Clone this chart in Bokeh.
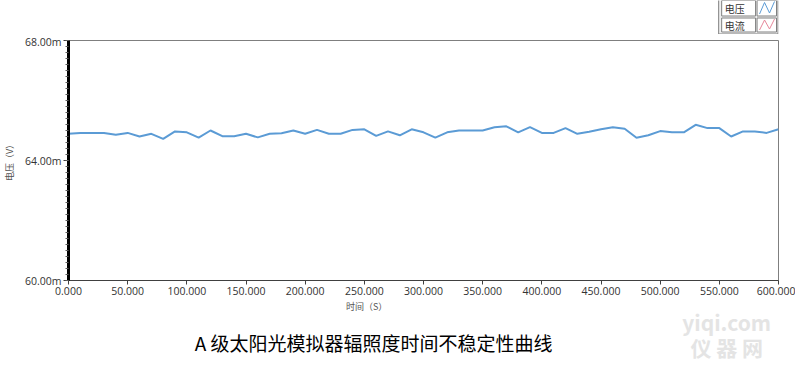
from bokeh.plotting import figure
from bokeh.layouts import column
from bokeh.models import Range1d, FixedTicker, PrintfTickFormatter
from bokeh.core.properties import value
from bokeh.embed import file_html
from bokeh.resources import INLINE

# ---- data ----
time_s = [0, 10, 20, 30, 40, 50, 60, 70, 80, 90,
          100, 110, 120, 130, 140, 150, 160, 170, 180, 190,
          200, 210, 220, 230, 240, 250, 260, 270, 280, 290,
          300, 310, 320, 330, 340, 350, 360, 370, 380, 390,
          400, 410, 420, 430, 440, 450, 460, 470, 480, 490,
          500, 510, 520, 530, 540, 550, 560, 570, 580, 590, 600]
voltage = [64.89, 64.92, 64.92, 64.92, 64.86, 64.92, 64.80, 64.89, 64.72, 64.97,
           64.94, 64.76, 65.00, 64.81, 64.81, 64.89, 64.77, 64.89, 64.91, 65.00,
           64.89, 65.02, 64.89, 64.89, 65.02, 65.04, 64.82, 64.97, 64.84, 65.04,
           64.94, 64.76, 64.94, 65.00, 65.00, 65.00, 65.11, 65.14, 64.94, 65.11,
           64.92, 64.92, 65.08, 64.89, 64.96, 65.04, 65.11, 65.06, 64.76, 64.84,
           64.98, 64.94, 64.94, 65.19, 65.08, 65.08, 64.80, 64.97, 64.97, 64.92, 65.04]
x_ticks = [0, 50, 100, 150, 200, 250, 300, 350, 400, 450, 500, 550, 600]
y_ticks = [60, 64, 68]
y_minor = [60 + 0.2 * i for i in range(41)]
series_names = ["电压", "电流"]
series_colors = ["#5b9bd5", "#e6879a"]
title_text = "A 级太阳光模拟器辐照度时间不稳定性曲线"
x_label = "时间（S）"
y_label = "电压（V）"
watermark = ["yiqi.com", "仪 器 网"]

W = 795
FL, FR = 66, 778          # plot frame left / right (window pixels)
CJK = "Noto Sans CJK SC"

def blank(height, y0, y1):
    # strips share the aligned frame of the main chart: x range maps to window pixels
    f = figure(width=W, height=height, output_backend="svg", toolbar_location=None,
               x_range=Range1d(FL, FR), y_range=Range1d(y1, y0),
               x_axis_location=None, y_axis_location=None, min_border=0,
               min_border_left=FL, min_border_right=W - FR)
    f.grid.visible = False
    f.outline_line_color = None
    f.background_fill_color = "white"
    f.border_fill_color = "white"
    return f

# ---- top strip: legend ----
TOP_H = 34
top = blank(TOP_H, 0, TOP_H)
top.quad(left=[718], right=[777.5], top=[-1], bottom=[33.5], fill_color="#f0f0f0",
         line_color="#808080", line_width=1)
rows = [(0, 15.5), (17.5, 31.5)]
for (t, b), name, col in zip(rows, series_names, series_colors):
    top.quad(left=[721], right=[755], top=[t], bottom=[b], fill_color="white",
             line_color="#808080", line_width=1)
    top.quad(left=[756.5], right=[776], top=[t], bottom=[b], fill_color="white",
             line_color="#808080", line_width=1)
    top.text(x=[724], y=[(t + b) / 2 + 0.5], text=[name], text_font=value(CJK),
             text_font_size="10px", text_color="#333333",
             text_align="left", text_baseline="middle")
    top.line(x=[759, 764, 769, 774], y=[b - 2, t + 2, b - 3, t + 1],
             line_color=col, line_width=1)

# ---- main chart ----
p = figure(width=W, height=266, output_backend="svg", toolbar_location=None,
           x_range=Range1d(0, 600), y_range=Range1d(60, 68),
           min_border_left=FL, min_border_right=W - FR, min_border_top=6,
           min_border_bottom=20)
p.grid.visible = False
p.outline_line_color = "#7f7f7f"
p.outline_line_width = 1
p.background_fill_color = "white"
p.border_fill_color = "white"

p.line(time_s, voltage, line_color=series_colors[0], line_width=2)

p.xaxis.ticker = FixedTicker(ticks=x_ticks)
p.xaxis.formatter = PrintfTickFormatter(format="%.3f")
p.xaxis.axis_line_color = "#404040"
p.xaxis.major_tick_out = 4
p.xaxis.major_tick_in = 0
p.xaxis.major_tick_line_color = "#404040"
p.xaxis.minor_tick_line_color = None
p.xaxis.major_label_text_font = "Open Sans"
p.xaxis.major_label_text_font_size = "10.5px"
p.xaxis.major_label_text_color = "#333333"
p.xaxis.major_label_standoff = 2

p.yaxis.ticker = FixedTicker(ticks=y_ticks, minor_ticks=y_minor)
p.yaxis.formatter = PrintfTickFormatter(format="%.2fm")
p.yaxis.axis_line_color = "black"
p.yaxis.axis_line_width = 3
p.yaxis.major_tick_out = 5
p.yaxis.major_tick_in = 0
p.yaxis.minor_tick_out = 3
p.yaxis.minor_tick_in = 0
p.yaxis.major_tick_line_color = "#404040"
p.yaxis.minor_tick_line_color = "#606060"
p.yaxis.major_label_text_font = "Open Sans"
p.yaxis.major_label_text_font_size = "10.5px"
p.yaxis.major_label_text_color = "#333333"
p.yaxis.major_label_standoff = 2
p.yaxis.axis_label = y_label
p.yaxis.axis_label_text_font = CJK
p.yaxis.axis_label_text_font_size = "9px"
p.yaxis.axis_label_text_font_style = "normal"
p.yaxis.axis_label_text_color = "#555555"
p.yaxis.axis_label_standoff = 6

# ---- bottom strip: x label, caption, watermark ----
Y0 = 300
BOT_H = 62
bot = blank(BOT_H, Y0, Y0 + BOT_H)
bot.text(x=[365], y=[306], text=[x_label], text_font=value(CJK), text_font_size="9px",
         text_color="#555555", text_align="center", text_baseline="middle")
bot.text(x=[726, 726], y=[321, 346], text=watermark, text_font=value(CJK),
         text_font_size="21px", text_font_style="bold", text_color="#e4e4e4",
         text_align="center", text_baseline="middle")
bot.text(x=[372], y=[342], text=[title_text], text_font=value(CJK), text_font_size="19px",
         text_color="black", text_align="center", text_baseline="middle")

layout = column(top, p, bot, spacing=0)
open("out.html", "w").write(file_html(layout, INLINE))
